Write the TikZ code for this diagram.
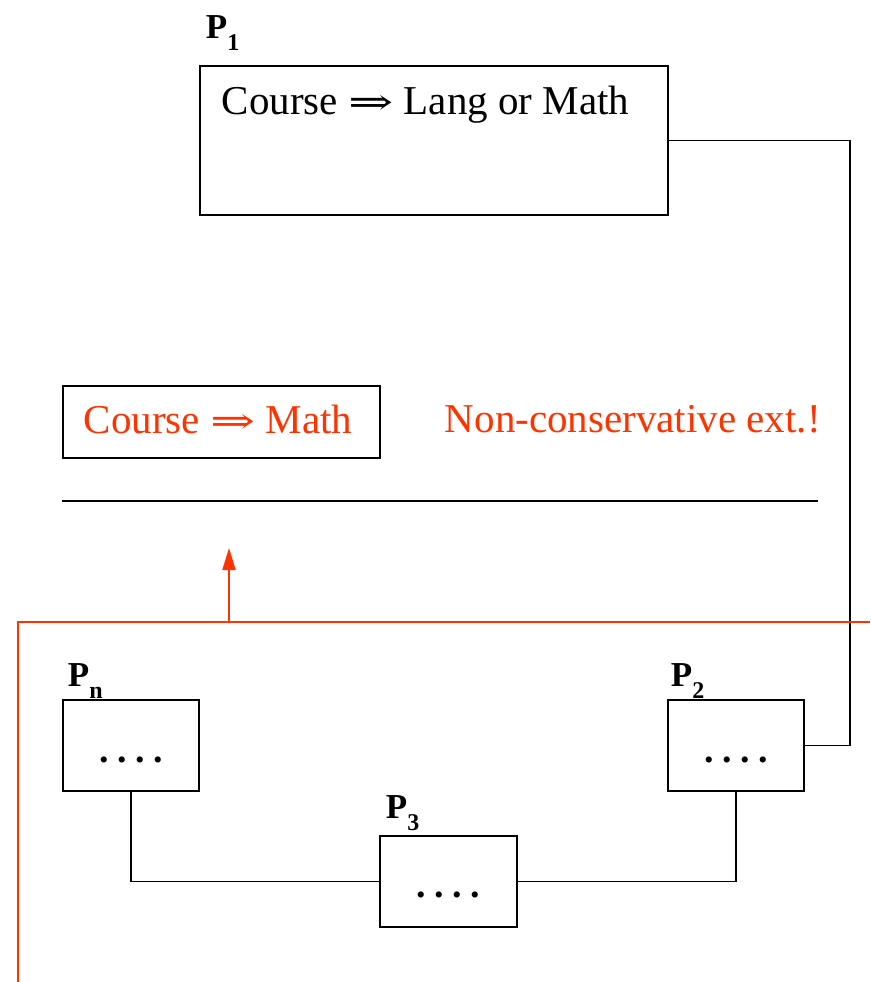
\documentclass[tikz,border=0pt]{standalone}
\usepackage{fontspec}
\usepackage{graphicx}
\setmainfont{Liberation Serif}
\newfontfamily\symfont{DejaVu Serif}
\usetikzlibrary{arrows.meta}
\definecolor{myred}{HTML}{FF3300}
\newcommand{\plabel}[1]{\textbf{P}\raisebox{-0.36em}{\fontsize{24}{24}\selectfont\textbf{#1}}}
\newcommand{\imp}{\scalebox{1.5}[1]{\symfont\fontsize{36}{36}\selectfont ⇒}}
\newcommand{\fourdots}{.\kern8.5pt.\kern8.5pt.\kern8.5pt.}
\begin{document}
\begin{tikzpicture}[x=1pt,y=-1pt,line width=1.9pt,
  box/.style={draw,line width=1.9pt,inner sep=0pt,anchor=north west},
  lbl/.style={anchor=base west,inner sep=0pt,font=\fontsize{35}{35}\selectfont},
  txt/.style={anchor=base west,inner sep=0pt,font=\fontsize{41}{41}\selectfont},
  dotstxt/.style={anchor=base,inner sep=0pt,font=\fontsize{38}{38}\selectfont\bfseries},
  redline/.style={draw=myred,line width=1.9pt}]
\useasboundingbox (0,0) rectangle (870,982);
% boxes
\node[box,minimum width=468pt,minimum height=149pt] (p1) at (199,65) {};
\node[box,minimum width=317pt,minimum height=72pt] (rb) at (62,385) {};
\node[box,minimum width=136pt,minimum height=91pt] (pn) at (62,699) {};
\node[box,minimum width=136pt,minimum height=91pt] (p2) at (667,699) {};
\node[box,minimum width=137pt,minimum height=91pt] (p3) at (379,835) {};
% labels
\node[lbl] (l1) at (205,38) {\plabel{1}};
\node[lbl] (ln) at (67,686) {\plabel{n}};
\node[lbl] (l2) at (670,686) {\plabel{2}};
\node[lbl] (l3) at (385,818) {\plabel{3}};
% texts
\node[txt] (t1) at (221,114) {Course \imp\ Lang or Math};
\node[txt,text=myred] (t2) at (83,433) {Course \imp\ Math};
\node[txt,text=myred] (t3) at (444,432) {Non-conservative ext.!};
\node[dotstxt] (dn) at (131,762) {\fourdots};
\node[dotstxt] (d2) at (736,762) {\fourdots};
\node[dotstxt] (d3) at (448,897) {\fourdots};
% connectors
\coordinate (rx) at (850,0);
\draw (p1.east) -- (p1.east -| rx) -- (p2.east -| rx) -- (p2.east);
\draw (pn.south) |- (p3.west);
\draw (p3.east) -| (p2.south);
% separator line
\coordinate (h1) at (62,501);
\coordinate (h2) at (818,501);
\draw (h1) -- (h2);
% red lines
\coordinate (ra) at (18,982);
\coordinate (rc) at (18,622);
\coordinate (rd) at (870,622);
\coordinate (ab) at (229,622);
\coordinate (at) at (229,548);
\draw[redline] (ra) -- (rc) -- (rd);
\draw[redline,-{Triangle[length=22pt,width=13pt]}] (ab) -- (at);
\end{tikzpicture}
\end{document}
